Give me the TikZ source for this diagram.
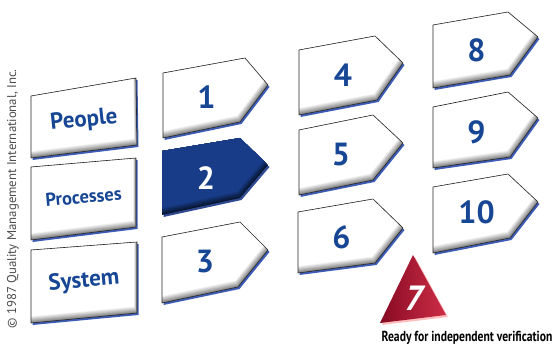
\documentclass[tikz,border=0pt]{standalone}
\usepackage{fontspec}
\setmainfont{PT Sans}
\usepackage{graphicx}
\usetikzlibrary{positioning,calc}

\definecolor{numblue}{RGB}{22,70,148}
\definecolor{boxblue}{RGB}{24,60,135}
\definecolor{dropblue}{RGB}{60,92,182}
\definecolor{reddark}{RGB}{135,10,35}
\definecolor{redlight}{RGB}{205,45,70}

\begin{document}
\begin{tikzpicture}[x=1pt, y=-1pt,
  num/.style={font=\fontsize{32}{32}\selectfont\bfseries, text=numblue, inner sep=0pt},
  lbl/.style={font=\bfseries, text=numblue, inner sep=0pt},
  edge/.style={draw=black!85, line width=0.6pt, line join=round},
  drop/.style={fill=dropblue, shift={(1.5,2)}},
]
  \useasboundingbox (0,0) rectangle (557,345);

  % left column: People / Processes / System
  \foreach \t/\sz/\r/\a/\b/\c/\d in {
    People/23/6/{31,96}/{136,78}/{137,145}/{31,158},
    Processes/18.5/5/{31,167}/{136,158}/{136,227}/{31,240},
    System/23/5/{31,250}/{137,242}/{137,313}/{31,323}}{
    \fill[drop] (\a) -- (\b) -- (\c) -- (\d) -- cycle;
    \begin{scope}
      \clip (\a) -- (\b) -- (\c) -- (\d) -- cycle;
      \foreach \k in {0,...,8}{
        \pgfmathtruncatemacro\g{max(0,48-6*\k)}
        \fill[black!\g, shift={(-0.35*\k,-0.8*\k)}] (\a) -- (\b) -- (\c) -- (\d) -- cycle;
      }
    \end{scope}
    \draw[edge] (\a) -- (\b) -- (\c) -- (\d) -- cycle;
    \node[lbl, font=\fontsize{\sz}{\sz}\selectfont\bfseries, rotate=\r] (\t) at ($(\a)!0.5!(\c)$) {\t};
  }

  % white steps
  \foreach \n/\a/\b/\c/\d/\e in {
    1/{163,73}/{245,58}/{268,85}/{240,122}/{163,138},
    3/{162,237}/{240,222}/{268,250}/{238,287}/{162,303},
    4/{299,50}/{375,36}/{403,63}/{377,100}/{299,115},
    5/{299,130}/{373,115}/{403,143}/{373,180}/{299,195},
    6/{298,212}/{373,199}/{403,228}/{375,263}/{298,273},
    8/{433,25}/{508,12}/{538,37}/{510,75}/{433,88},
    9/{433,107}/{508,92}/{538,118}/{510,157}/{433,168},
    10/{433,187}/{508,174}/{538,202}/{510,238}/{433,253}}{
    \fill[drop] (\a) -- (\b) -- (\c) -- (\d) -- (\e) -- cycle;
    \begin{scope}
      \clip (\a) -- (\b) -- (\c) -- (\d) -- (\e) -- cycle;
      \foreach \k in {0,...,8}{
        \pgfmathtruncatemacro\g{max(0,48-6*\k)}
        \fill[black!\g, shift={(-0.35*\k,-0.8*\k)}] (\a) -- (\b) -- (\c) -- (\d) -- (\e) -- cycle;
      }
    \end{scope}
    \draw[edge] (\a) -- (\b) -- (\c) -- (\d) -- (\e) -- cycle;
    \node[num] (step\n) at ($(\a)!0.5!(\d)+(5,0)$) {\n};
  }

  % step 2, filled blue
  \fill[drop, fill=dropblue!80!black] (162,151) -- (240,138) -- (268,165) -- (240,198) -- (162,215) -- cycle;
  \begin{scope}
    \clip (162,151) -- (240,138) -- (268,165) -- (240,198) -- (162,215) -- cycle;
    \foreach \k in {0,...,8}{
      \pgfmathtruncatemacro\g{max(0,64-8*\k)}
      \fill[black!\g!boxblue, shift={(-0.35*\k,-0.8*\k)}] (162,151) -- (240,138) -- (268,165) -- (240,198) -- (162,215) -- cycle;
    }
  \end{scope}
  \node[num, text=white] (step2) at (206,178) {2};

  % step 7, the triangle
  \fill[red!25, shift={(2,2)}] (413,255) -- (446,315) -- (380,323) -- cycle;
  \shade[left color=reddark, right color=redlight] (413,255) -- (446,315) -- (380,323) -- cycle;
  \node[font=\fontsize{35}{35}\selectfont\bfseries\itshape, text=white, inner sep=0pt] (step7) at (414,298) {7};
  \node[font=\fontsize{14.5}{14.5}\selectfont\bfseries, anchor=base, inner sep=0pt] (ready) at (467,341)
    {\scalebox{0.8}[1]{Ready for independent verification}};

  \node[rotate=90, font=\fontsize{12.8}{12.8}\selectfont, text=black!70, inner sep=0pt] (copy) at (13,199)
    {\textcopyright\ 1987 Quality Management International, Inc.};
\end{tikzpicture}
\end{document}
